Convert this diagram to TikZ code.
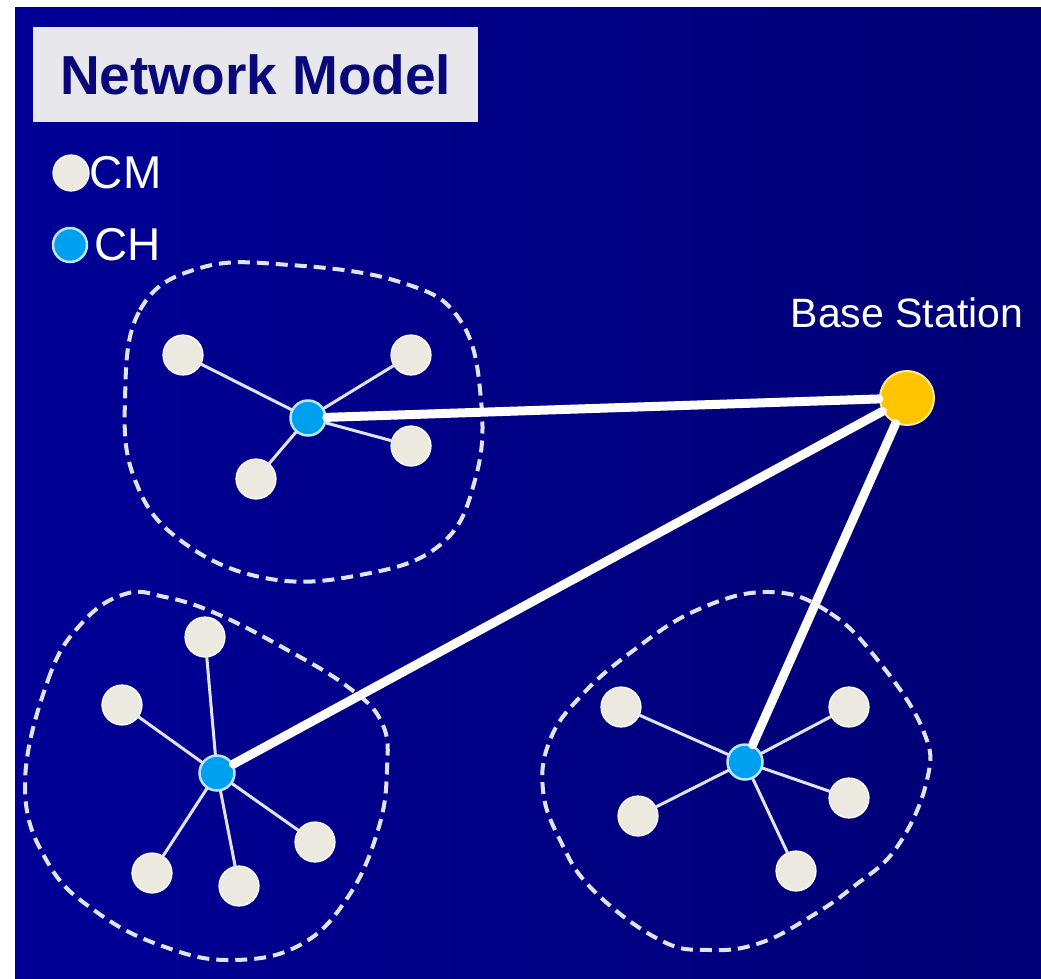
\documentclass[tikz,border=0pt]{standalone}
\usepackage{fontspec}
\setmainfont{Liberation Sans}
\usetikzlibrary{positioning}

\definecolor{navy}{RGB}{0,0,150}
\definecolor{navydark}{RGB}{0,0,116}
\definecolor{titlegray}{RGB}{232,232,236}
\definecolor{titleblue}{RGB}{8,8,122}
\definecolor{cmfill}{RGB}{236,234,224}
\definecolor{chblue}{RGB}{0,160,240}
\definecolor{chrim}{RGB}{185,230,255}
\definecolor{bsgold}{RGB}{255,196,0}
\definecolor{bsrim}{RGB}{255,235,150}
\definecolor{linkwhite}{RGB}{226,226,245}

\begin{document}
\begin{tikzpicture}[x=1pt, y=-1pt, line cap=round, line join=round,
    member/.style={circle, fill=cmfill, draw=white, line width=1.2pt, minimum size=40pt, inner sep=0pt},
    head/.style={circle, fill=chblue, draw=chrim, line width=2.5pt, minimum size=35pt, inner sep=0pt},
    station/.style={circle, fill=bsgold, draw=bsrim, line width=2pt, minimum size=54pt, inner sep=0pt},
    link/.style={draw=linkwhite, line width=3pt},
    uplink/.style={draw=white, line width=9pt},
    region/.style={draw=linkwhite, line width=4pt, line cap=butt, dash pattern=on 12pt off 7pt},
    keytext/.style={text=white, font=\fontsize{46}{50}\selectfont, inner sep=0pt}]

    % page and background
    \fill[white] (0,0) rectangle (1041,979);
    \shade[left color=navy, right color=navydark] (15,8) rectangle (1041,978);

    % title and legend
    \node[fill=titlegray, text=titleblue, anchor=north west, minimum width=445pt, minimum height=95pt,
          inner sep=0pt, font=\fontsize{55}{60}\selectfont\bfseries] (title) at (33,27) {Network Model};
    \node[member, minimum size=36pt] (cmkey) at (71,173) {};
    \node[keytext, right=0pt of cmkey] (cmtext) {CM};
    \node[head, minimum size=34pt] (chkey) at (70,245) {};
    \node[keytext, right=6pt of chkey] (chtext) {CH};

    % cluster regions
    \draw[region] plot[smooth cycle, tension=0.7] coordinates {
        (125,400) (140,310) (200,268) (290,265) (400,282) (460,320) (481,400)
        (475,480) (440,545) (360,575) (265,578) (180,540) (135,480)};
    \draw[region] plot[smooth cycle, tension=0.7] coordinates {
        (25,785) (48,680) (82,623) (125,594) (165,597) (215,613) (282,647)
        (348,687) (382,723) (387,770) (378,830) (348,897) (300,945) (232,960)
        (165,947) (98,913) (48,863)};
    \draw[region] plot[smooth cycle, tension=0.7] coordinates {
        (770,592) (830,613) (880,663) (923,730) (927,780) (897,847) (853,887)
        (810,917) (760,943) (710,950) (660,940) (593,890) (560,840) (543,790)
        (550,740) (580,697) (630,653) (697,610)};

    % base station
    \node[station] (bs) at (907,398) {};
    \node[text=white, inner sep=0pt, font=\fontsize{41}{44}\selectfont, above=42pt of bs] (bslabel) {Base Station};

    % cluster 1
    \node[head] (ch1) at (308,418) {};
    \node[member] (a1) at (183,355) {};
    \node[member] (a2) at (411,355) {};
    \node[member] (a3) at (411,446) {};
    \node[member] (a4) at (256,479) {};
    \foreach \m in {a1,a2,a3,a4} \draw[link] (ch1) -- (\m);

    % cluster 2
    \node[head] (ch2) at (217,773) {};
    \node[member] (b1) at (205,637) {};
    \node[member] (b2) at (122,705) {};
    \node[member] (b3) at (152,873) {};
    \node[member] (b4) at (239,886) {};
    \node[member] (b5) at (315,842) {};
    \foreach \m in {b1,b2,b3,b4,b5} \draw[link] (ch2) -- (\m);

    % cluster 3
    \node[head] (ch3) at (745,762) {};
    \node[member] (c1) at (621,707) {};
    \node[member] (c2) at (849,707) {};
    \node[member] (c3) at (638,816) {};
    \node[member] (c4) at (849,798) {};
    \node[member] (c5) at (796,871) {};
    \foreach \m in {c1,c2,c3,c4,c5} \draw[link] (ch3) -- (\m);

    % cluster heads to base station
    \foreach \h in {ch1,ch2,ch3} \draw[uplink] (\h) -- (bs);
\end{tikzpicture}
\end{document}
